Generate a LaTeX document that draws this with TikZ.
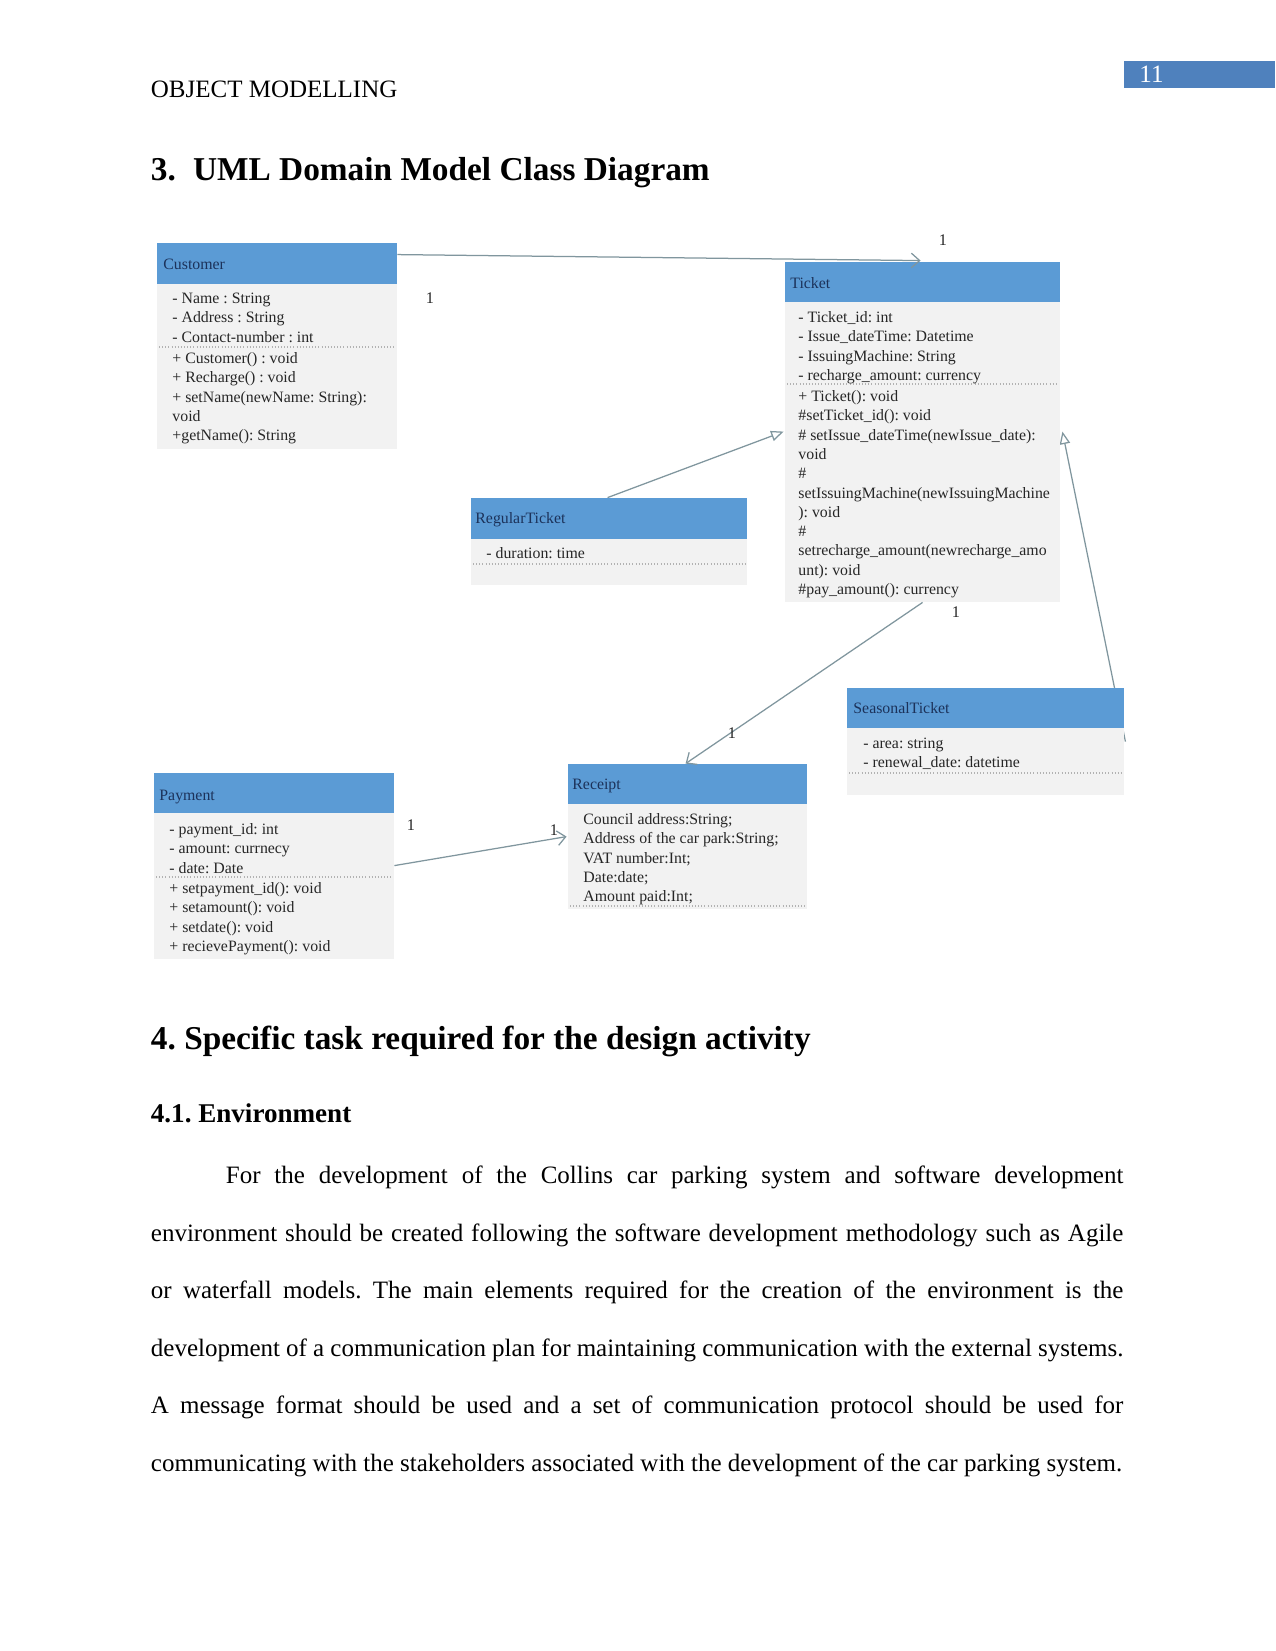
\documentclass[tikz,border=0pt]{standalone}
\usepackage{fontspec}
\setmainfont{Liberation Serif}
\usetikzlibrary{arrows.meta,calc,fit}
\pgfdeclarelayer{bg}
\pgfsetlayers{bg,main}
\definecolor{hdr}{RGB}{91,155,213}
\definecolor{bodyc}{RGB}{242,242,242}
\definecolor{hdrtxt}{RGB}{28,50,90}
\definecolor{conncol}{RGB}{128,150,158}
\definecolor{pgblue}{RGB}{79,129,189}
\frenchspacing
\begin{document}
\begin{tikzpicture}[x=0.48pt,y=-0.48pt,
  hbox/.style={fill=hdr, inner sep=0pt, draw=none},
  bbox/.style={fill=bodyc, inner sep=0pt, draw=none},
  htxt/.style={anchor=mid west, inner sep=0pt, text=hdrtxt, font=\fontsize{7.6}{9.27}\selectfont},
  btxt/.style={anchor=north west, inner sep=0pt, align=left, text=black!85, font=\fontsize{7.6}{9.27}\selectfont},
  sepl/.style={gray!60, densely dotted, line width=0.5pt},
  connl/.style={draw=conncol, line width=0.6pt},
  gen/.style={connl, -{Triangle[open, length=6pt, width=5pt, fill=white]}},
  assoc/.style={connl, -{Straight Barb[length=4pt, width=7pt]}},
  mult/.style={inner sep=0pt, font=\fontsize{7.8}{9}\selectfont, text=black!85},
]
\useasboundingbox (0,0) rectangle (1275,1651);
\begin{pgfonlayer}{bg}
\fill[white] (0,0) rectangle (1275,1651);
\end{pgfonlayer}

% page header
\node[anchor=base west, inner sep=0pt, font=\fontsize{12}{14}\selectfont] (runhead) at (150.5,98) {OBJECT MODELLING};
\node[fill=pgblue, inner sep=0pt, fit={(1124,61)(1275,88)}] (pgbox) {};
\node[anchor=base west, inner sep=0pt, text=white, font=\fontsize{12}{14}\selectfont] (pgnum) at (1139,83) {11};

% headings
\node[anchor=base west, inner sep=0pt, font=\bfseries\fontsize{16}{19}\selectfont] (h3num) at (150.5,181) {3.};
\node[anchor=base west, inner sep=0pt, font=\bfseries\fontsize{16}{19}\selectfont] (h3) at (192.7,181) {UML Domain Model Class Diagram};
\node[anchor=base west, inner sep=0pt, font=\bfseries\fontsize{16}{19}\selectfont] (h4) at (150.5,1049) {4. Specific task required for the design activity};
\node[anchor=base west, inner sep=0pt, font=\bfseries\fontsize{13}{16}\selectfont] (h41) at (150.5,1122) {4.1. Environment};

% paragraph
\node[anchor=north west, inner sep=0pt, text width=466.8pt, align=justify, font=\fontsize{12}{27.6}\selectfont] (para) at (150.5,1143)
{\parfillskip=0pt \strut\hspace*{36pt}For the development of the Collins car parking system and software development\linebreak
environment should be created following the software development methodology such as Agile\linebreak
or waterfall models. The main elements required for the creation of the environment is the\linebreak
development of a communication plan for maintaining communication with the external systems.\linebreak
A message format should be used and a set of communication protocol should be used for\linebreak
communicating with the stakeholders associated with the development of the car parking system.};

% ---------------- Customer
\node[hbox, fit={(157,243)(397,284)}] (customerH) {};
\node[bbox, fit={(157,284)(397,449)}] (customerB) {};
\node[htxt] (customerT) at (163,265) {Customer};
\draw[sepl] (159,347) -- (395,347);
\node[btxt] (customerA) at (172,289.5) {\strut- Name : String\\- Address : String\\- Contact-number : int};
\node[btxt] (customerM) at (172,349.5) {\strut+ Customer() : void\\+ Recharge() : void\\+ setName(newName: String):\\void\\+getName(): String};

% ---------------- Ticket
\node[hbox, fit={(785,262)(1060,302)}] (ticketH) {};
\node[bbox, fit={(785,302)(1060,602)}] (ticketB) {};
\node[htxt] (ticketT) at (790,284) {Ticket};
\draw[sepl] (787,384) -- (1058,384);
\node[btxt] (ticketA) at (798,308.5) {\strut- Ticket\_id: int\\- Issue\_dateTime: Datetime\\- IssuingMachine: String\\- recharge\_amount: currency};
\node[btxt] (ticketM) at (798,387.5) {\strut+ Ticket(): void\\\#setTicket\_id(): void\\\# setIssue\_dateTime(newIssue\_date):\\void\\\#\\setIssuingMachine(newIssuingMachine\\): void\\\#\\setrecharge\_amount(newrecharge\_amo\\unt): void\\\#pay\_amount(): currency};

% ---------------- RegularTicket
\node[hbox, fit={(471,498)(747,539)}] (regularH) {};
\node[bbox, fit={(471,539)(747,585)}] (regularB) {};
\node[htxt] (regularT) at (475,519) {RegularTicket};
\draw[sepl] (473,564) -- (745,564);
\node[btxt] (regularA) at (486,544.5) {\strut- duration: time};

% ---------------- SeasonalTicket
\node[hbox, fit={(847,688)(1124,728)}] (seasonalH) {};
\node[bbox, fit={(847,728)(1124,795)}] (seasonalB) {};
\node[htxt] (seasonalT) at (853,709) {SeasonalTicket};
\draw[sepl] (849,773) -- (1122,773);
\node[btxt] (seasonalA) at (863,734.5) {\strut- area: string\\- renewal\_date: datetime};

% ---------------- Payment
\node[hbox, fit={(154,773)(394,813)}] (paymentH) {};
\node[bbox, fit={(154,813)(394,959)}] (paymentB) {};
\node[htxt] (paymentT) at (159,796) {Payment};
\draw[sepl] (156,877) -- (392,877);
\node[btxt] (paymentA) at (169,820.5) {\strut- payment\_id: int\\- amount: currnecy\\- date: Date};
\node[btxt] (paymentM) at (169,879.5) {\strut+ setpayment\_id(): void\\+ setamount(): void\\+ setdate(): void\\+ recievePayment(): void};

% ---------------- Receipt
\node[hbox, fit={(568,764)(807,804)}] (receiptH) {};
\node[bbox, fit={(568,804)(807,909)}] (receiptB) {};
\node[htxt] (receiptT) at (572,785) {Receipt};
\draw[sepl] (570,906) -- (805,906);
\node[btxt] (receiptA) at (583,810.5) {\strut Council address:String;\\Address of the car park:String;\\VAT number:Int;\\Date:date;\\Amount paid:Int;};

% ---------------- connectors
\draw[assoc] ($(customerH.north east)+(0,12)$) -- ($(ticketH.north west)+(136,-1)$);
\draw[gen] ($(regularH.north west)+(137,0)$) -- ($(ticketB.north west)+(-1,130)$);
\begin{pgfonlayer}{bg}
\draw[gen] ($(seasonalB.north east)+(1,14)$) -- ($(ticketB.north east)+(2,130)$);
\end{pgfonlayer}
\draw[assoc] ($(ticketB.south west)+(138,0)$) -- ($(receiptH.north west)+(118,0)$);
\draw[assoc] ($(paymentB.north east)+(0,53)$) -- ($(receiptB.north west)+(-1,33)$);

% multiplicities
\node[mult] (m1) at (943,240) {1};
\node[mult] (m2) at (430,298) {1};
\node[mult] (m3) at (956,612) {1};
\node[mult] (m4) at (732,733) {1};
\node[mult] (m5) at (411,825) {1};
\node[mult] (m6) at (554,830) {1};
\end{tikzpicture}
\end{document}
